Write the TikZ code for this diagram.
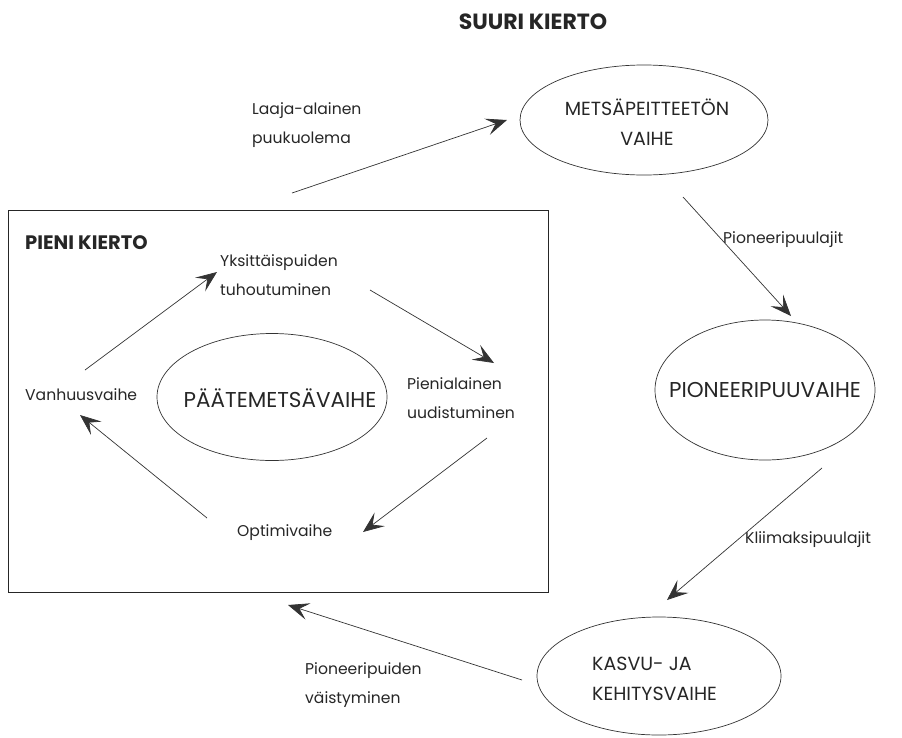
\documentclass[tikz,border=0pt]{standalone}
\usepackage{fontspec}
\setmainfont{Poppins}
\usetikzlibrary{shapes.geometric,arrows.meta}
\begin{document}
\begin{tikzpicture}[x=1pt,y=-1pt,
  ell/.style={draw=black!80,line width=0.7pt,ellipse,inner sep=0pt},
  etx/.style={inner sep=0pt,align=center,font=\fontsize{21.5}{30}\selectfont,text=black!85},
  etxs/.style={etx,font=\fontsize{19}{30}\selectfont},
  lbl/.style={anchor=west,inner sep=0pt,align=left,font=\fontsize{15.6}{29}\selectfont,text=black!85},
  ttl/.style={anchor=west,inner sep=0pt,font=\fontsize{19.5}{22}\selectfont\bfseries,text=black!85},
  arr/.style={draw=black!80,line width=0.7pt,-{Stealth[length=21pt,width=17pt,inset=9pt]}}]
\useasboundingbox (0,0) rectangle (902,737);
% title
\node[ttl,anchor=center,font=\fontsize{22}{24}\selectfont\bfseries] (suuri) at (533,22) {SUURI KIERTO};
% big cycle ellipses
\node[ell,minimum width=248pt,minimum height=110pt] (metsa) at (644,120) {};
\node[etxs] (metsat) at (647,122) {METSÄPEITTEETÖN\\VAIHE};
\node[ell,minimum width=220pt,minimum height=140pt] (pion) at (765,390) {};
\node[etx] (piont) at (765,390) {PIONEERIPUUVAIHE};
\node[ell,minimum width=244pt,minimum height=118pt] (kasvu) at (659,676) {};
\node[etxs,align=left,anchor=west] (kasvut) at (592,679) {KASVU- JA\\KEHITYSVAIHE};
% small cycle box
\node[draw=black!85,line width=0.9pt,minimum width=540pt,minimum height=382pt,inner sep=0pt] (box) at (278,401) {};
\node[ttl] (pieni) at (25,243) {PIENI KIERTO};
\node[ell,minimum width=230pt,minimum height=127pt] (paate) at (272,397) {};
\node[etx] (paatet) at (280,398) {PÄÄTEMETSÄVAIHE};
% small cycle labels
\node[lbl] (yks) at (220,275) {Yksittäispuiden\\tuhoutuminen};
\node[lbl] (pien) at (407,398) {Pienialainen\\uudistuminen};
\node[lbl] (vanh) at (25,395) {Vanhuusvaihe};
\node[lbl] (opt) at (237,533) {Optimivaihe};
% big cycle labels
\node[lbl] (laaja) at (252,125) {Laaja-alainen\\puukuolema};
\node[lbl] (pionl) at (723,240) {Pioneeripuulajit};
\node[lbl] (kliim) at (745,540) {Kliimaksipuulajit};
\node[lbl] (vaist) at (305,685) {Pioneeripuiden\\väistyminen};
% connector end points
\coordinate (a1) at (292,193); \coordinate (a2) at (507,120);
\coordinate (b1) at (683,197); \coordinate (b2) at (791,316);
\coordinate (c1) at (822,468); \coordinate (c2) at (667,600);
\coordinate (d1) at (522,680); \coordinate (d2) at (288,605);
\coordinate (e1) at (85,370); \coordinate (e2) at (217,272);
\coordinate (f1) at (370,290); \coordinate (f2) at (494,363);
\coordinate (g1) at (487,438); \coordinate (g2) at (363,532);
\coordinate (h1) at (207,518); \coordinate (h2) at (80,415);
\draw[arr] (a1) -- (a2);
\draw[arr] (b1) -- (b2);
\draw[arr] (c1) -- (c2);
\draw[arr] (d1) -- (d2);
\draw[arr] (e1) -- (e2);
\draw[arr] (f1) -- (f2);
\draw[arr] (g1) -- (g2);
\draw[arr] (h1) -- (h2);
\end{tikzpicture}
\end{document}
